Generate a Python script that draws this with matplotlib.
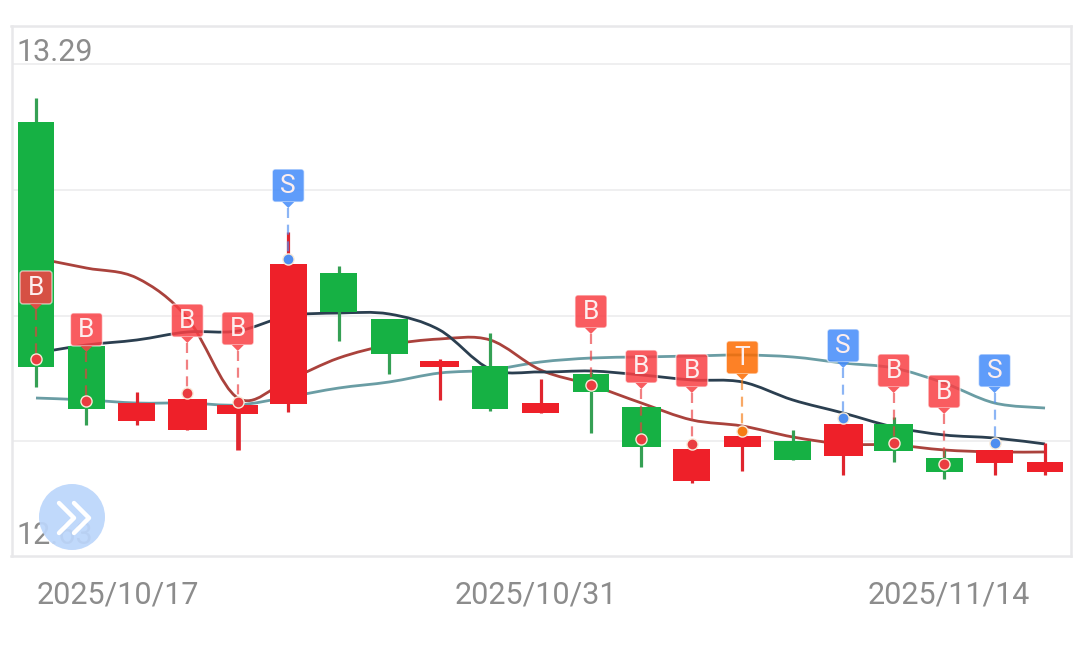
"""Candlestick chart with moving averages and B/S/T signal flags."""

import matplotlib

matplotlib.use("Agg")
import matplotlib.pyplot as plt
from matplotlib.patches import Circle, FancyBboxPatch, PathPatch, Polygon
from matplotlib.path import Path
from matplotlib.transforms import Affine2D, blended_transform_factory

plt.rcParams["font.family"] = ["Roboto", "DejaVu Sans"]

# Candle bodies: upper and lower edge, plus wick ends. "G" / "R" is the body colour.
BODY_TOP = [13.2123, 12.9121, 12.8357, 12.8411, 12.8331, 13.0220, 13.0099, 12.9483, 12.8920, 12.8853, 12.8357,
            12.8746, 12.8304, 12.7741, 12.7915, 12.7848, 12.8076, 12.8076, 12.7620, 12.7728, 12.7567]
BODY_BOTTOM = [12.8840, 12.8277, 12.8116, 12.7996, 12.8210, 12.8344, 12.9577, 12.9014, 12.8840, 12.8277, 12.8223,
               12.8505, 12.7768, 12.7312, 12.7768, 12.7594, 12.7647, 12.7714, 12.7433, 12.7553, 12.7433]
HIGH = [13.2444, 12.9121, 12.8505, 12.8411, 12.8398, 13.0649, 13.0193, 12.9483, 12.8947, 12.9295, 12.8679,
        12.8773, 12.8304, 12.7741, 12.7915, 12.7996, 12.8076, 12.8170, 12.7728, 12.7728, 12.7821]
LOW = [12.8572, 12.8063, 12.8063, 12.7996, 12.7728, 12.8237, 12.9188, 12.8746, 12.8398, 12.8250, 12.8223,
       12.7955, 12.7500, 12.7285, 12.7446, 12.7594, 12.7393, 12.7567, 12.7339, 12.7393, 12.7393]
COLOURS = ["G", "G", "R", "R", "R", "R", "G", "G", "R", "G", "R",
           "G", "G", "R", "R", "G", "R", "G", "G", "R", "R"]

MA_DARK = [12.9027, 12.9135, 12.9202, 12.9309, 12.9322, 12.9523, 12.9563, 12.9550, 12.9336, 12.8813, 12.8773,
           12.8786, 12.8733, 12.8666, 12.8639, 12.8398, 12.8223, 12.8036, 12.7929, 12.7888, 12.7808]
MA_BROWN = [13.0300, 13.0166, 13.0032, 12.9496, 12.8424, 12.8666, 12.8960, 12.9135, 12.9215, 12.9202, 12.8800,
            12.8599, 12.8357, 12.8130, 12.8049, 12.7902, 12.7808, 12.7795, 12.7728, 12.7701, 12.7701]
MA_TEAL = [12.8424, 12.8398, 12.8357, 12.8357, 12.8331, 12.8438, 12.8558, 12.8639, 12.8759, 12.8800, 12.8907,
           12.8960, 12.8974, 12.8987, 12.9001, 12.8974, 12.8893, 12.8826, 12.8625, 12.8357, 12.8290]

# Signals: candle index, letter, price of the dot, price where the flag pointer ends.
SIGNAL_IDX = [0, 1, 3, 4, 5, 11, 12, 13, 14, 16, 17, 18, 19]
SIGNAL_KIND = ["B", "B", "B", "B", "S", "B", "B", "B", "T", "S", "B", "B", "S"]
SIGNAL_PRICE = [12.8947, 12.8384, 12.8491, 12.8371, 13.0287, 12.8599, 12.7875, 12.7808,
                12.7982, 12.8156, 12.7821, 12.7540, 12.7821]
SIGNAL_TIP = [12.9604, 12.9041, 12.9161, 12.9054, 13.0970, 12.9282, 12.8545, 12.8491,
              12.8666, 12.8826, 12.8491, 12.8210, 12.8491]

DATE_IDX = [0, 10, 20]
DATE_LABELS = ["2025/10/17", "2025/10/31", "2025/11/14"]
GRID_LEVELS = [13.29, 13.1212, 12.9523, 12.7848]
PRICE_LABELS = ["13.29", "12.63"]
PRICE_LABEL_LEVELS = [13.29, 12.6307]

WIDTH, HEIGHT = 1080, 645
GREEN, RED = "#16b144", "#ee2029"
FLAG_COLOURS = {"B": "#f93f44", "S": "#438bfa", "T": "#fd6b00"}
DOT_COLOURS = {"B": "#ea3c40", "S": "#4f8ef0", "T": "#f57c14"}
TEXT_GREY = "#8c8c8c"
WIDE_BODIES = {3: 0.77, 4: 0.81, 8: 0.77, 12: 0.77, 16: 0.77, 17: 0.77}

# Pixel coordinates of the picture, y pointing down; used only for the scroll button.
PX = Affine2D().scale(1, -1).translate(0, HEIGHT)


def _smooth_path(values):
    """Catmull-Rom curve through the values, the way the chart's smooth lines look."""
    pts = list(enumerate(values))
    verts = [pts[0]]
    codes = [Path.MOVETO]
    for i in range(len(pts) - 1):
        p0 = pts[max(i - 1, 0)]
        p1 = pts[i]
        p2 = pts[i + 1]
        p3 = pts[min(i + 2, len(pts) - 1)]
        verts.append((p1[0] + (p2[0] - p0[0]) / 6, p1[1] + (p2[1] - p0[1]) / 6))
        verts.append((p2[0] - (p3[0] - p1[0]) / 6, p2[1] - (p3[1] - p1[1]) / 6))
        verts.append(p2)
        codes += [Path.CURVE4] * 3
    return Path(verts, codes)


def _draw_candles(ax):
    for i, colour in enumerate(COLOURS):
        face = GREEN if colour == "G" else RED
        wick = "#35a054" if colour == "G" else "#e0252e"
        ax.vlines(i, LOW[i], HIGH[i], color=wick, linewidth=3.4 if i == 4 else 2.3, zorder=3)
        ax.bar(i, BODY_TOP[i] - BODY_BOTTOM[i], bottom=BODY_BOTTOM[i], width=WIDE_BODIES.get(i, 0.73),
               color=face, zorder=3.5)


def _draw_flag(ax, i, kind, price, tip):
    colour = FLAG_COLOURS[kind]
    ax.plot([i, i], [tip, price], color=DOT_COLOURS[kind], linewidth=1.6, alpha=0.65,
            dashes=(4.5, 3), zorder=5)
    ax.plot([i], [price], "o", markersize=8, markerfacecolor=DOT_COLOURS[kind],
            markeredgecolor="#f8ead8", markeredgewidth=1.0, zorder=5.5)

    # The flag keeps its pixel size, so it hangs from a transform anchored at the tip.
    x0, y0 = ax.transData.transform((i, tip))
    anchor = Affine2D().translate(x0, y0)
    radius = 3
    box = FancyBboxPatch((-16 + radius, 6 + radius), 32 - 2 * radius, 33 - 2 * radius,
                         boxstyle=f"round,pad={radius},rounding_size={radius}",
                         facecolor=colour, edgecolor="none", alpha=0.85, transform=anchor,
                         clip_on=False, zorder=6)
    outline = FancyBboxPatch((-16 + radius, 6 + radius), 32 - 2 * radius, 33 - 2 * radius,
                             boxstyle=f"round,pad={radius},rounding_size={radius}",
                             facecolor="none", edgecolor="#ffffff", linewidth=1.0, alpha=0.6,
                             transform=anchor, clip_on=False, zorder=6.1)
    pointer = Polygon([(-6, 6), (6, 6), (0, 0)], facecolor=colour, edgecolor="none", alpha=0.85,
                      transform=anchor, clip_on=False, zorder=6.2)
    ax.add_patch(box)
    ax.add_patch(outline)
    ax.add_patch(pointer)
    ax.text(0, 22, kind, transform=anchor, color="#fdeeee", fontsize=19, ha="center", va="center",
            zorder=7)


def _draw_scroll_button(ax):
    ax.add_patch(Circle((72, 517), 33, facecolor="#bcd6fb", edgecolor="none", alpha=0.93,
                        transform=PX, clip_on=False, zorder=8))
    for dx in (0, 15):
        ax.plot([59 + dx, 74 + dx, 59 + dx], [503, 518, 533], color="white", linewidth=3.2,
                solid_capstyle="round", solid_joinstyle="round", transform=PX, clip_on=False, zorder=9)


def main():
    fig = plt.figure(figsize=(WIDTH / 100, HEIGHT / 100), dpi=100, facecolor="white")
    ax = fig.add_axes([11.5 / WIDTH, 1 - 556 / HEIGHT, (1071 - 11.5) / WIDTH, (556 - 25.5) / HEIGHT])
    ax.set_xlim(-0.4856, 20.515)
    ax.set_ylim(12.6307, 13.3416)
    ax.set_xticks([])
    ax.set_yticks([])
    for spine in ax.spines.values():
        spine.set_color("#e8e8ea")
        spine.set_linewidth(1.8)

    for level in GRID_LEVELS:
        ax.axhline(level, color="#ececee", linewidth=1.2, zorder=1)

    for values, colour in ((MA_TEAL, "#6a9da4"), (MA_BROWN, "#aa423c"), (MA_DARK, "#2b3f50")):
        ax.add_patch(PathPatch(_smooth_path(values), facecolor="none", edgecolor=colour,
                               linewidth=2.0, zorder=2))

    _draw_candles(ax)

    for i, kind, price, tip in zip(SIGNAL_IDX, SIGNAL_KIND, SIGNAL_PRICE, SIGNAL_TIP):
        _draw_flag(ax, i, kind, price, tip)

    left_edge = blended_transform_factory(ax.transAxes, ax.transData)
    for label, level, lift in zip(PRICE_LABELS, PRICE_LABEL_LEVELS, (3, 12)):
        ax.annotate(label, xy=(0, level), xycoords=left_edge, xytext=(5, lift), textcoords="offset pixels",
                    fontsize=22, color=TEXT_GREY, va="baseline", ha="left", zorder=4)

    bottom_edge = blended_transform_factory(ax.transData, ax.transAxes)
    for i, label, ha, dx in zip(DATE_IDX, DATE_LABELS, ("left", "center", "right"), (1, -5, -15)):
        ax.annotate(label, xy=(i, 0), xycoords=bottom_edge, xytext=(dx, -47), textcoords="offset pixels",
                    fontsize=22, color=TEXT_GREY, va="baseline", ha=ha, annotation_clip=False)

    _draw_scroll_button(ax)

    fig.savefig("out.png", dpi=100)
    plt.close(fig)


if __name__ == "__main__":
    main()
